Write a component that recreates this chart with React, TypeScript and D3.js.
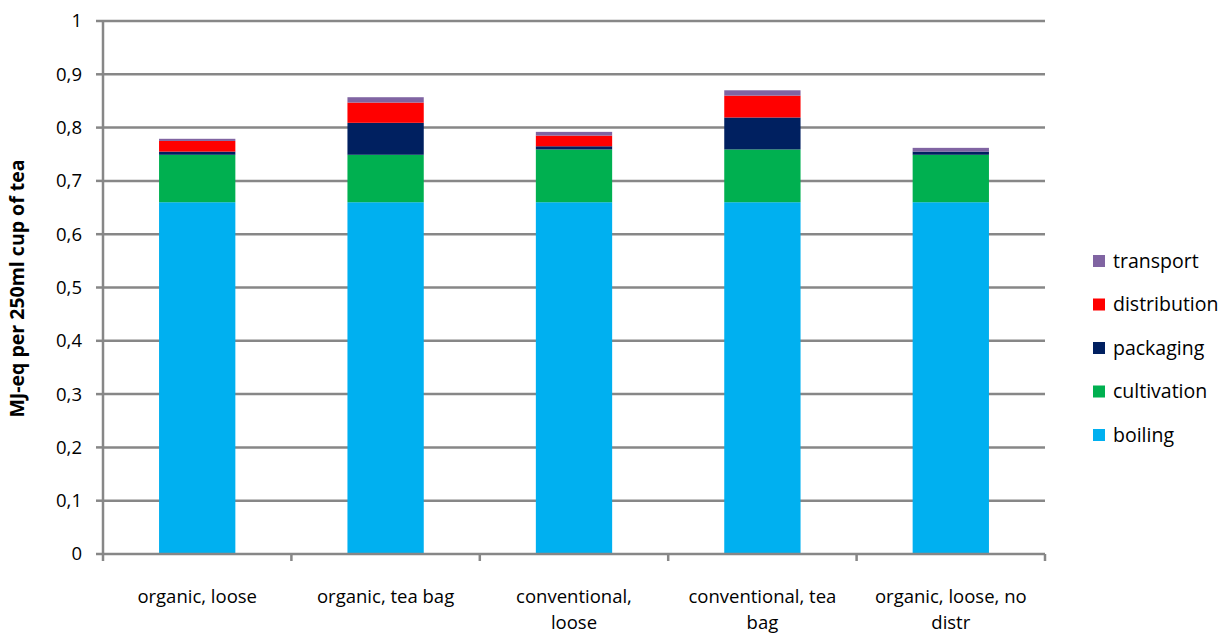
import React from "react";
import * as d3 from "d3";

const categories = [
  "organic, loose",
  "organic, tea bag",
  "conventional, loose",
  "conventional, tea bag",
  "organic, loose, no distr",
];
const seriesNames = ["boiling", "cultivation", "packaging", "distribution", "transport"];
const boiling = [0.66, 0.66, 0.66, 0.66, 0.66];
const cultivation = [0.089, 0.089, 0.099, 0.099, 0.089];
const packaging = [0.006, 0.06, 0.006, 0.06, 0.006];
const distribution = [0.02, 0.038, 0.02, 0.041, 0];
const transport = [0.004, 0.01, 0.007, 0.01, 0.007];
const colors = ["#00B0F0", "#00B050", "#002060", "#FF0000", "#8064A2"];
const yTicks = [0, 0.1, 0.2, 0.3, 0.4, 0.5, 0.6, 0.7, 0.8, 0.9, 1];
const yTitle = "MJ-eq per 250ml cup of tea";

const W = 1226, H = 633;
const M = { left: 103, right: 1045, top: 21, bottom: 554 };
const FONT = "'Open Sans', 'Liberation Sans', sans-serif";
const FS = 18.5;

function wrap(text: string, maxW: number): string[] {
  const canvas = document.createElement("canvas");
  const ctx = canvas.getContext("2d")!;
  ctx.font = `${FS}px ${FONT}`;
  const words = text.split(" ");
  const lines: string[] = [];
  let cur = "";
  for (const w of words) {
    const t = cur ? cur + " " + w : w;
    if (ctx.measureText(t).width > maxW && cur) {
      lines.push(cur);
      cur = w;
    } else cur = t;
  }
  if (cur) lines.push(cur);
  return lines;
}

export default function App() {
  const series = [boiling, cultivation, packaging, distribution, transport];
  const rows = categories.map((c, i) => {
    const r: any = { cat: c };
    seriesNames.forEach((s, j) => (r[s] = series[j][i]));
    return r;
  });
  const stacked = d3.stack<any>().keys(seriesNames)(rows);
  const x = d3.scaleBand().domain(categories).range([M.left, M.right]).paddingInner(0).paddingOuter(0);
  const y = d3.scaleLinear().domain([0, 1]).range([M.bottom, M.top]);
  const bw = x.bandwidth() * 0.405;
  const grid = "#878787";
  const labelLines = categories.map((c) => wrap(c, 160));

  return (
    <svg width={W} height={H} style={{ position: "absolute", left: 0, top: 0, fontFamily: FONT }}>
      {yTicks.map((t) => (
        <g key={t}>
          {t > 0 && (
            <line x1={M.left} x2={M.right} y1={y(t)} y2={y(t)} stroke={grid} strokeWidth={2.5} />
          )}
          <line x1={M.left - 7} x2={M.left} y1={y(t)} y2={y(t)} stroke={grid} strokeWidth={2.5} />
          <text x={82} y={y(t)} dy="0.35em" textAnchor="end" fontSize={FS} fill="#000">
            {d3.format(".1~f")(t).replace(".", ",")}
          </text>
        </g>
      ))}
      {stacked.map((s, j) => (
        <g key={s.key} fill={colors[j]}>
          {s.map((d, i) =>
            d[1] - d[0] > 0 ? (
              <rect
                key={i}
                x={x(categories[i])! + (x.bandwidth() - bw) / 2}
                width={bw}
                y={y(d[1])}
                height={y(d[0]) - y(d[1])}
              />
            ) : null
          )}
        </g>
      ))}
      <line x1={M.left} x2={M.left} y1={M.top} y2={M.bottom} stroke={grid} strokeWidth={2.5} />
      <line x1={M.left} x2={M.right} y1={M.bottom} y2={M.bottom} stroke={grid} strokeWidth={2.5} />
      {categories.map((c, i) => (
        <line key={"t" + i} x1={x(c)!} x2={x(c)!} y1={M.bottom} y2={M.bottom + 7} stroke={grid} strokeWidth={2.5} />
      ))}
      <line x1={M.right} x2={M.right} y1={M.bottom} y2={M.bottom + 7} stroke={grid} strokeWidth={2.5} />
      {categories.map((c, i) => (
        <text key={"l" + i} x={x(c)! + x.bandwidth() / 2} y={603} textAnchor="middle" fontSize={FS} fill="#000">
          {labelLines[i].map((ln, k) => (
            <tspan key={k} x={x(c)! + x.bandwidth() / 2} y={603 + k * 26}>
              {ln}
            </tspan>
          ))}
        </text>
      ))}
      <text
        transform={`translate(24, ${(M.top + M.bottom) / 2 + 1}) rotate(-90)`}
        textAnchor="middle"
        fontSize={19.5}
        fontWeight="bold"
        fill="#000"
      >
        {yTitle}
      </text>
      {seriesNames
        .map((s, j) => ({ s, j }))
        .reverse()
        .map(({ s, j }, k) => (
          <g key={s} transform={`translate(1093, ${261 + k * 43.5})`}>
            <rect x={0} y={-6} width={12} height={12} fill={colors[j]} />
            <text x={20} y={0} dy="0.35em" fontSize={19.5} fill="#000">
              {s}
            </text>
          </g>
        ))}
    </svg>
  );
}
